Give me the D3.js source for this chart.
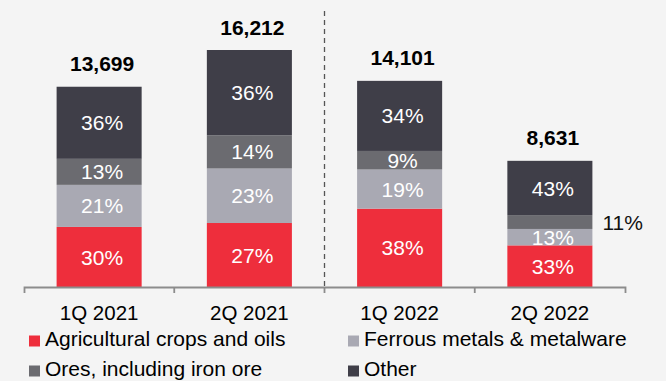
<!DOCTYPE html>
<html>
<head>
<meta charset="utf-8">
<script src="https://cdn.jsdelivr.net/npm/d3@7"></script>
<style>
  html, body { margin: 0; padding: 0; background: #f4f4f4; }
  svg { display: block; font-family: "Liberation Sans", Arial, sans-serif; }
</style>
</head>
<body>
<svg id="chart" width="666" height="381"></svg>
<script>
// Quarterly volumes and cargo mix (shares in %)
const categories = ["1Q 2021", "2Q 2021", "1Q 2022", "2Q 2022"];
const totals = [13699, 16212, 14101, 8631];
const seriesNames = ["Agricultural crops and oils", "Ferrous metals & metalware", "Ores, including iron ore", "Other"];
const agricultural = [30, 27, 38, 33];
const ferrous = [21, 23, 19, 13];
const ores = [13, 14, 9, 11];
const other = [36, 36, 34, 43];
const colors = ["#ee2e3c", "#a9a9b3", "#6b6b70", "#3f3e48"];

const shares = [agricultural, ferrous, ores, other];

// Build rows: each segment value = total * share
const rows = categories.map((c, i) => {
  const r = { cat: c, total: totals[i] };
  seriesNames.forEach((s, k) => { r[s] = totals[i] * shares[k][i] / 100; r[s + "_pct"] = shares[k][i]; });
  return r;
});

const svg = d3.select("#chart");
const baseY = 287;

const x = d3.scaleBand()
  .domain(categories)
  .range([24, 625])
  .paddingInner(0.434)
  .paddingOuter(0.217);

const y = d3.scaleLinear()
  .domain([0, 16212])
  .range([baseY, 50]);

const stack = d3.stack().keys(seriesNames);
const layers = stack(rows);

// Dashed separator between 2021 and 2022
const step = x.step();
const sepX = x(categories[1]) + x.bandwidth() + (step - x.bandwidth()) / 2;
svg.append("line")
  .attr("x1", sepX).attr("x2", sepX)
  .attr("y1", 11).attr("y2", baseY)
  .attr("stroke", "#555")
  .attr("stroke-width", 1.3)
  .attr("stroke-dasharray", "5,4");

// Stacked bars
const g = svg.append("g");
layers.forEach((layer, k) => {
  g.selectAll(null)
    .data(layer)
    .join("rect")
    .attr("x", d => x(d.data.cat))
    .attr("y", d => y(d[1]))
    .attr("width", x.bandwidth())
    .attr("height", d => y(d[0]) - y(d[1]))
    .attr("fill", colors[k]);
});

// Percentage labels
layers.forEach((layer, k) => {
  layer.forEach(d => {
    const pct = d.data[seriesNames[k] + "_pct"];
    const cy = (y(d[0]) + y(d[1])) / 2;
    const small = (y(d[0]) - y(d[1])) < 16;
    svg.append("text")
      .attr("x", small ? x(d.data.cat) + x.bandwidth() + 10 : x(d.data.cat) + x.bandwidth() / 2 + 3)
      .attr("y", cy)
      .attr("dy", "0.36em")
      .attr("text-anchor", small ? "start" : "middle")
      .attr("font-size", 21)
      .attr("fill", small ? "#111" : "#fff")
      .text(pct + "%");
  });
});

// Totals above bars
svg.selectAll(".total")
  .data(rows)
  .join("text")
  .attr("class", "total")
  .attr("x", d => x(d.cat) + x.bandwidth() / 2 + 3)
  .attr("y", d => y(d.total) - 15.5)
  .attr("text-anchor", "middle")
  .attr("font-size", 21)
  .attr("font-weight", "bold")
  .attr("fill", "#000")
  .text(d => d3.format(",")(d.total));

// Category axis
const axis = svg.append("g")
  .attr("transform", `translate(0,${baseY})`)
  .call(d3.axisBottom(x).tickSize(0).tickSizeOuter(6).tickPadding(18));
axis.select(".domain").attr("stroke", "#8c8c8c").attr("stroke-width", 1.8);
axis.selectAll(".tick text")
  .attr("font-size", 20.5)
  .attr("fill", "#000")
  .attr("font-family", "Liberation Sans, Arial, sans-serif");

// Boundary ticks between categories
categories.slice(0, -1).forEach(c => {
  const bx = x(c) + x.bandwidth() + (step - x.bandwidth()) / 2;
  svg.append("line")
    .attr("x1", bx).attr("x2", bx)
    .attr("y1", baseY).attr("y2", baseY + 6)
    .attr("stroke", "#8c8c8c")
    .attr("stroke-width", 1.8);
});

// Legend (two columns, two rows)
const legendPos = [[29, 346], [348, 346], [29, 376], [348, 376]];
seriesNames.forEach((s, k) => {
  const [lx, ly] = legendPos[k];
  svg.append("rect")
    .attr("x", lx).attr("y", ly - 10.5)
    .attr("width", 11).attr("height", 11)
    .attr("fill", colors[k]);
  svg.append("text")
    .attr("x", lx + 16).attr("y", ly)
    .attr("font-size", 21)
    .attr("fill", "#000")
    .text(s);
});
</script>
</body>
</html>
